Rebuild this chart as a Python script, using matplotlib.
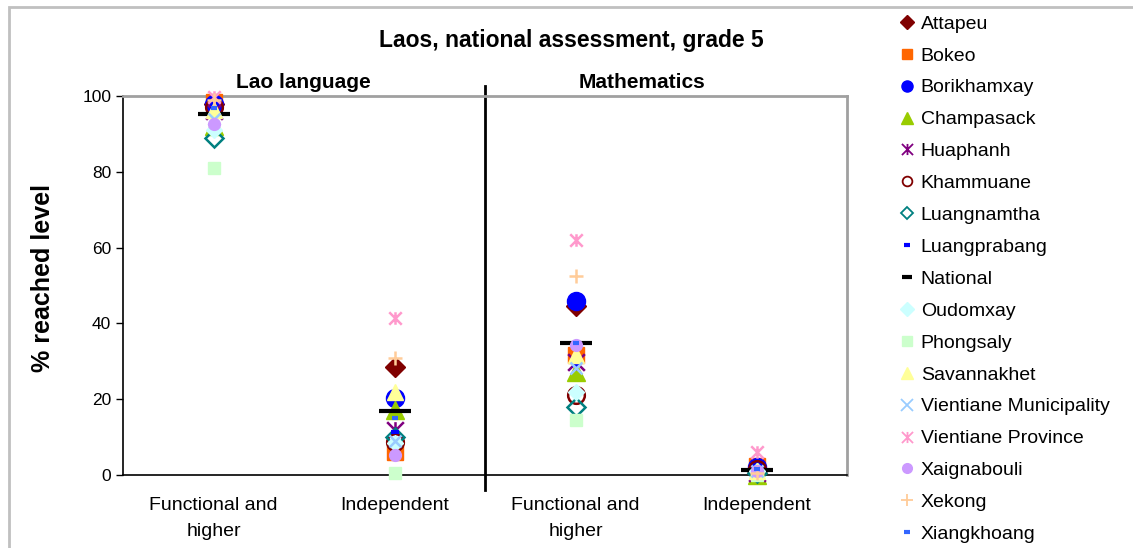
import matplotlib
matplotlib.use('Agg')
import matplotlib.pyplot as plt
from matplotlib.path import Path
from matplotlib.patches import Rectangle

plt.rcParams['font.family'] = ['Liberation Sans', 'DejaVu Sans']

# Categories on the x axis
categories = ['Functional and\nhigher', 'Independent', 'Functional and\nhigher', 'Independent']
subjects = ['Lao language', 'Mathematics']

regions = ['Attapeu', 'Bokeo', 'Borikhamxay', 'Champasack', 'Huaphanh', 'Khammuane',
           'Luangnamtha', 'Luangprabang', 'National', 'Oudomxay', 'Phongsaly',
           'Savannakhet', 'Vientiane Municipality', 'Vientiane Province',
           'Xaignabouli', 'Xekong', 'Xiangkhoang']

# % reached level: Lao functional, Lao independent, Math functional, Math independent
lao_func = [98, 98.5, 98, 92, 96, 97, 89, 96.5, 95.3, 91, 81, 96.3, 94, 99.7, 92.6, 99, 96.8]
lao_indep = [28.5, 6, 20.3, 17.2, 12, 8.7, 10, 11.3, 17, 8.4, 0.5, 21.8, 9, 41.4, 5.3, 30.8, 15]
math_func = [44.5, 31.7, 46, 27.2, 29.8, 21, 18, 29, 34.8, 22, 14.5, 31.6, 28.2, 62, 34.3, 52.6, 34.8]
math_indep = [1, 2.5, 2, 0, 0.5, 1.5, 0.5, 1, 1.2, 1, 0, 1, 1, 6, 1, 0.5, 1.5]

# x with a vertical bar (Excel style star)
star = Path([(-1, -1), (1, 1), (-1, 1), (1, -1), (0, -1), (0, 1)],
            [Path.MOVETO, Path.LINETO, Path.MOVETO, Path.LINETO, Path.MOVETO, Path.LINETO])

# marker, colour, size, filled, edge width
styles = [
    ('D', '#800000', 10, True, 1),
    ('s', '#FF6600', 12, True, 1),
    ('o', '#0000FF', 13, True, 1),
    ('^', '#99CC00', 13, True, 1),
    (star, '#800080', 12, False, 1.8),
    ('o', '#800000', 12, False, 1.8),
    ('D', '#008080', 9.5, False, 1.8),
    ('_', '#0000FF', 6, False, 3),
    ('_', '#000000', 23, False, 3),
    ('D', '#CCFFFF', 8, True, 1),
    ('s', '#CCFFCC', 8, True, 1),
    ('^', '#FFFF99', 11, True, 1),
    ('x', '#99CCFF', 9, False, 1.8),
    (star, '#FF99CC', 9, False, 1.8),
    ('o', '#CC99FF', 8.5, True, 1),
    ('+', '#FFCC99', 10, False, 1.8),
    ('_', '#3366FF', 5, False, 3),
]

W, H = 1133, 548
fig = plt.figure(figsize=(W / 100, H / 100), dpi=100)
ax = fig.add_axes([123 / W, 1 - 475 / H, (847 - 123) / W, (475 - 96) / H])

xs = [1, 2, 3, 4]
for i, name in enumerate(regions):
    m, c, s, filled, lw = styles[i]
    ys = [lao_func[i], lao_indep[i], math_func[i], math_indep[i]]
    ax.plot(xs, ys, linestyle='none', marker=m, markersize=s,
            markerfacecolor=c if filled else 'none', markeredgecolor=c,
            markeredgewidth=lw, color=c, label=name, clip_on=False, zorder=3 + i)

ax.set_xlim(0.5, 4.5)
ax.set_ylim(0, 100)
ax.set_yticks([0, 20, 40, 60, 80, 100])
ax.set_xticks(xs)
ax.set_xticklabels(categories)
ax.tick_params(axis='x', length=0, labelsize=14, pad=16)
for t in ax.get_xticklabels():
    t.set_linespacing(1.7)
ax.tick_params(axis='y', length=5, width=1, labelsize=12.5, pad=3.5, direction='out')
ax.set_ylabel('% reached level', fontsize=18, fontweight='bold')
ax.yaxis.set_label_coords(-0.094, 0.52)

for side in ['top', 'right']:
    ax.spines[side].set_color('#A0A0A0')
    ax.spines[side].set_linewidth(2)
for side in ['left', 'bottom']:
    ax.spines[side].set_color('black')
    ax.spines[side].set_linewidth(1.2)

# divider between the two subjects
ax.plot([2.5, 2.5], [-4, 102.6], color='black', lw=2, clip_on=False, zorder=2)

# outer frame of the chart
fig.patches.append(Rectangle((9 / W, -0.1), 1.2, 1 - 7 / H + 0.1, transform=fig.transFigure,
                             fill=False, edgecolor='#C0C0C0', lw=2))

fig.text(571 / W, 1 - 41 / H, 'Laos, national assessment, grade 5', ha='center', va='center',
         fontsize=16.5, fontweight='bold')
fig.text(303 / W, 1 - 82 / H, subjects[0], ha='center', va='center', fontsize=15, fontweight='bold')
fig.text(642 / W, 1 - 82 / H, subjects[1], ha='center', va='center', fontsize=15, fontweight='bold')

leg = fig.legend(loc='upper left', bbox_to_anchor=(899 / W, 1 - 15 / H), frameon=False,
                 fontsize=14, labelspacing=0.735, handlelength=0.8, handletextpad=0.32,
                 borderaxespad=0, borderpad=0)
leg_sizes = [7, 7, 8, 8, 8, 7, 6.5, 5, 7, 7, 7, 8, 8, 8, 7, 8, 5]
for h, s in zip(leg.legend_handles, leg_sizes):
    h.set_markersize(s)
    if h.get_marker() != '_':
        h.set_markeredgewidth(min(h.get_markeredgewidth(), 1.3))

fig.savefig('out.png', dpi=100)
